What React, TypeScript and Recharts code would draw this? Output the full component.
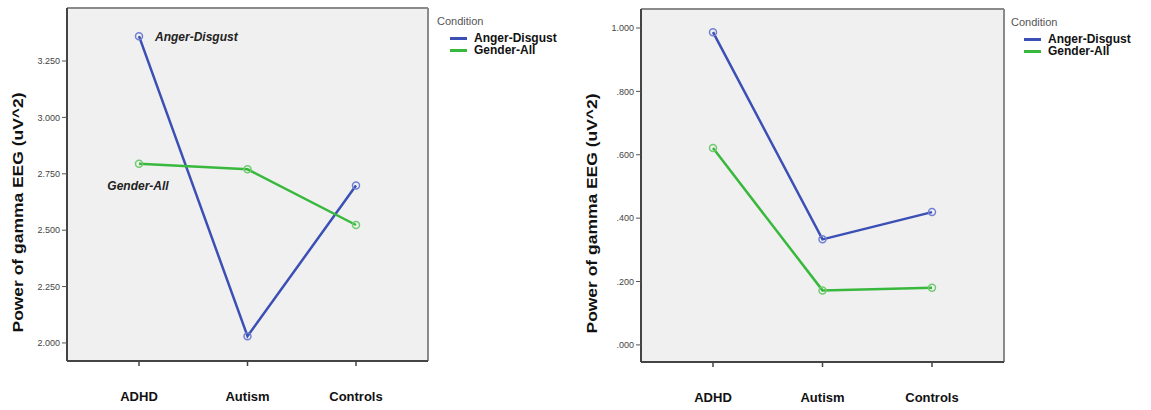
import React from "react";
import { LineChart, Line, XAxis, YAxis, CartesianGrid, Label } from "recharts";

const groups = ["ADHD", "Autism", "Controls"];
const seriesNames = ["Anger-Disgust", "Gender-All"];
const seriesColors = ["#3b4fb4", "#38b83c"];
const dotColors = ["#7080d4", "#70cc70"];

// left panel
const leftAnger = [3.36, 2.03, 2.698];
const leftGender = [2.795, 2.77, 2.523];
const leftTicks = [2.0, 2.25, 2.5, 2.75, 3.0, 3.25];

// right panel
const rightAnger = [0.987, 0.333, 0.419];
const rightGender = [0.621, 0.172, 0.18];
const rightTicks = [0, 0.2, 0.4, 0.6, 0.8, 1.0];

const FONT = '"Liberation Sans", Arial, sans-serif';
const YLABEL = "Power of gamma EEG (uV^2)";

const leftData = groups.map((g, i) => ({ group: g, anger: leftAnger[i], gender: leftGender[i] }));
const rightData = groups.map((g, i) => ({ group: g, anger: rightAnger[i], gender: rightGender[i] }));

const fmtLeft = (v: number) => v.toFixed(3);
const fmtRight = (v: number) => v.toFixed(3).replace(/^0/, "");

const yLabel = (props: any) => {
  const vb = props.viewBox || {};
  const x = vb.x - 2;
  const y = vb.y + vb.height / 2 + 28;
  return (
    <text
      x={x}
      y={y}
      transform={`rotate(-90 ${x} ${y})`}
      textAnchor="middle"
      dominantBaseline="central"
      fontFamily={FONT}
      fontWeight="bold"
      fontSize={14}
      textLength={240}
      lengthAdjust="spacingAndGlyphs"
      fill="#111"
    >
      {YLABEL}
    </text>
  );
};

// italic annotations next to ADHD points in the left panel
const annot = (name: string, dx: number, dy: number, anchor: string) => (props: any) => {
  if (props.index !== 0) return null;
  return (
    <text
      x={props.x + dx}
      y={props.y + dy}
      textAnchor={anchor}
      dominantBaseline="central"
      fontFamily={FONT}
      fontStyle="italic"
      fontWeight="bold"
      fontSize={12}
      fill="#222"
    >
      {name}
    </text>
  );
};

// plot frame lines along the edges of the plot area
const frameX = ({ offset }: any) => [offset.left, offset.left + offset.width];
const frameY = ({ offset }: any) => [offset.top, offset.top + offset.height];

function Legend({ left, top }: { left: number; top: number }) {
  return (
    <div style={{ position: "absolute", left, top, fontFamily: FONT }}>
      <div style={{ fontSize: 11, color: "#555", lineHeight: "13px" }}>Condition</div>
      <div style={{ marginTop: 4 }}>
        {seriesNames.map((n, i) => (
          <div key={n} style={{ display: "flex", alignItems: "center", height: 12, marginLeft: 13 }}>
            <span style={{ width: 17, height: 3, background: seriesColors[i], marginRight: 7 }} />
            <span style={{ fontSize: 12, fontWeight: "bold", color: "#111", lineHeight: "12px" }}>{n}</span>
          </div>
        ))}
      </div>
    </div>
  );
}

function Panel({
  data,
  domain,
  ticks,
  fmt,
  width,
  margin,
  xHeight,
  annotate,
}: {
  data: any[];
  domain: [number, number];
  ticks: number[];
  fmt: (v: number) => string;
  width: number;
  margin: any;
  xHeight: number;
  annotate?: boolean;
}) {
  const tickStyle = { fontSize: 9, fill: "#444", fontFamily: FONT };
  return (
    <LineChart width={width} height={410} data={data} margin={margin}>
      <CartesianGrid
        fill="#f0f0f0"
        stroke="#8a8a8a"
        strokeWidth={2}
        verticalCoordinatesGenerator={frameX}
        horizontalCoordinatesGenerator={frameY}
      />
      <XAxis
        dataKey="group"
        padding={{ left: 72, right: 72 }}
        height={xHeight}
        tickSize={5}
        tickMargin={26}
        axisLine={{ stroke: "#444", strokeWidth: 2 }}
        tickLine={{ stroke: "#444", strokeWidth: 1.5 }}
        tick={{ fontSize: 13, fontWeight: "bold", fill: "#111", fontFamily: FONT }}
      />
      <YAxis
        type="number"
        domain={domain}
        ticks={ticks}
        width={47}
        tickFormatter={fmt}
        tickSize={5}
        tickMargin={2}
        axisLine={{ stroke: "#444", strokeWidth: 2 }}
        tickLine={{ stroke: "#555", strokeWidth: 1 }}
        tick={tickStyle}
      >
        <Label content={yLabel} />
      </YAxis>
      <Line
        dataKey="anger"
        stroke={seriesColors[0]}
        strokeWidth={2.5}
        dot={{ r: 3.5, fill: "none", stroke: dotColors[0], strokeWidth: 1.5 }}
        activeDot={false}
        isAnimationActive={false}
        label={annotate ? annot(seriesNames[0], 16, 1, "start") : false}
      />
      <Line
        dataKey="gender"
        stroke={seriesColors[1]}
        strokeWidth={2.5}
        dot={{ r: 3.5, fill: "none", stroke: dotColors[1], strokeWidth: 1.5 }}
        activeDot={false}
        isAnimationActive={false}
        label={annotate ? annot(seriesNames[1], -1, 22, "middle") : false}
      />
    </LineChart>
  );
}

export default function App() {
  return (
    <div style={{ position: "absolute", left: 0, top: 0, width: 1151, height: 410, background: "#fff" }}>
      <div style={{ position: "absolute", left: 0, top: 0 }}>
        <Panel
          data={leftData}
          domain={[1.92, 3.485]}
          ticks={leftTicks}
          fmt={fmtLeft}
          width={440}
          margin={{ top: 8, right: 12, bottom: 0, left: 20 }}
          xHeight={49}
          annotate
        />
      </div>
      <Legend left={437} top={15} />
      <div style={{ position: "absolute", left: 575, top: 0 }}>
        <Panel
          data={rightData}
          domain={[-0.054, 1.06]}
          ticks={rightTicks}
          fmt={fmtRight}
          width={439}
          margin={{ top: 9, right: 10, bottom: 0, left: 19 }}
          xHeight={48}
        />
      </div>
      <Legend left={1011} top={16} />
    </div>
  );
}
